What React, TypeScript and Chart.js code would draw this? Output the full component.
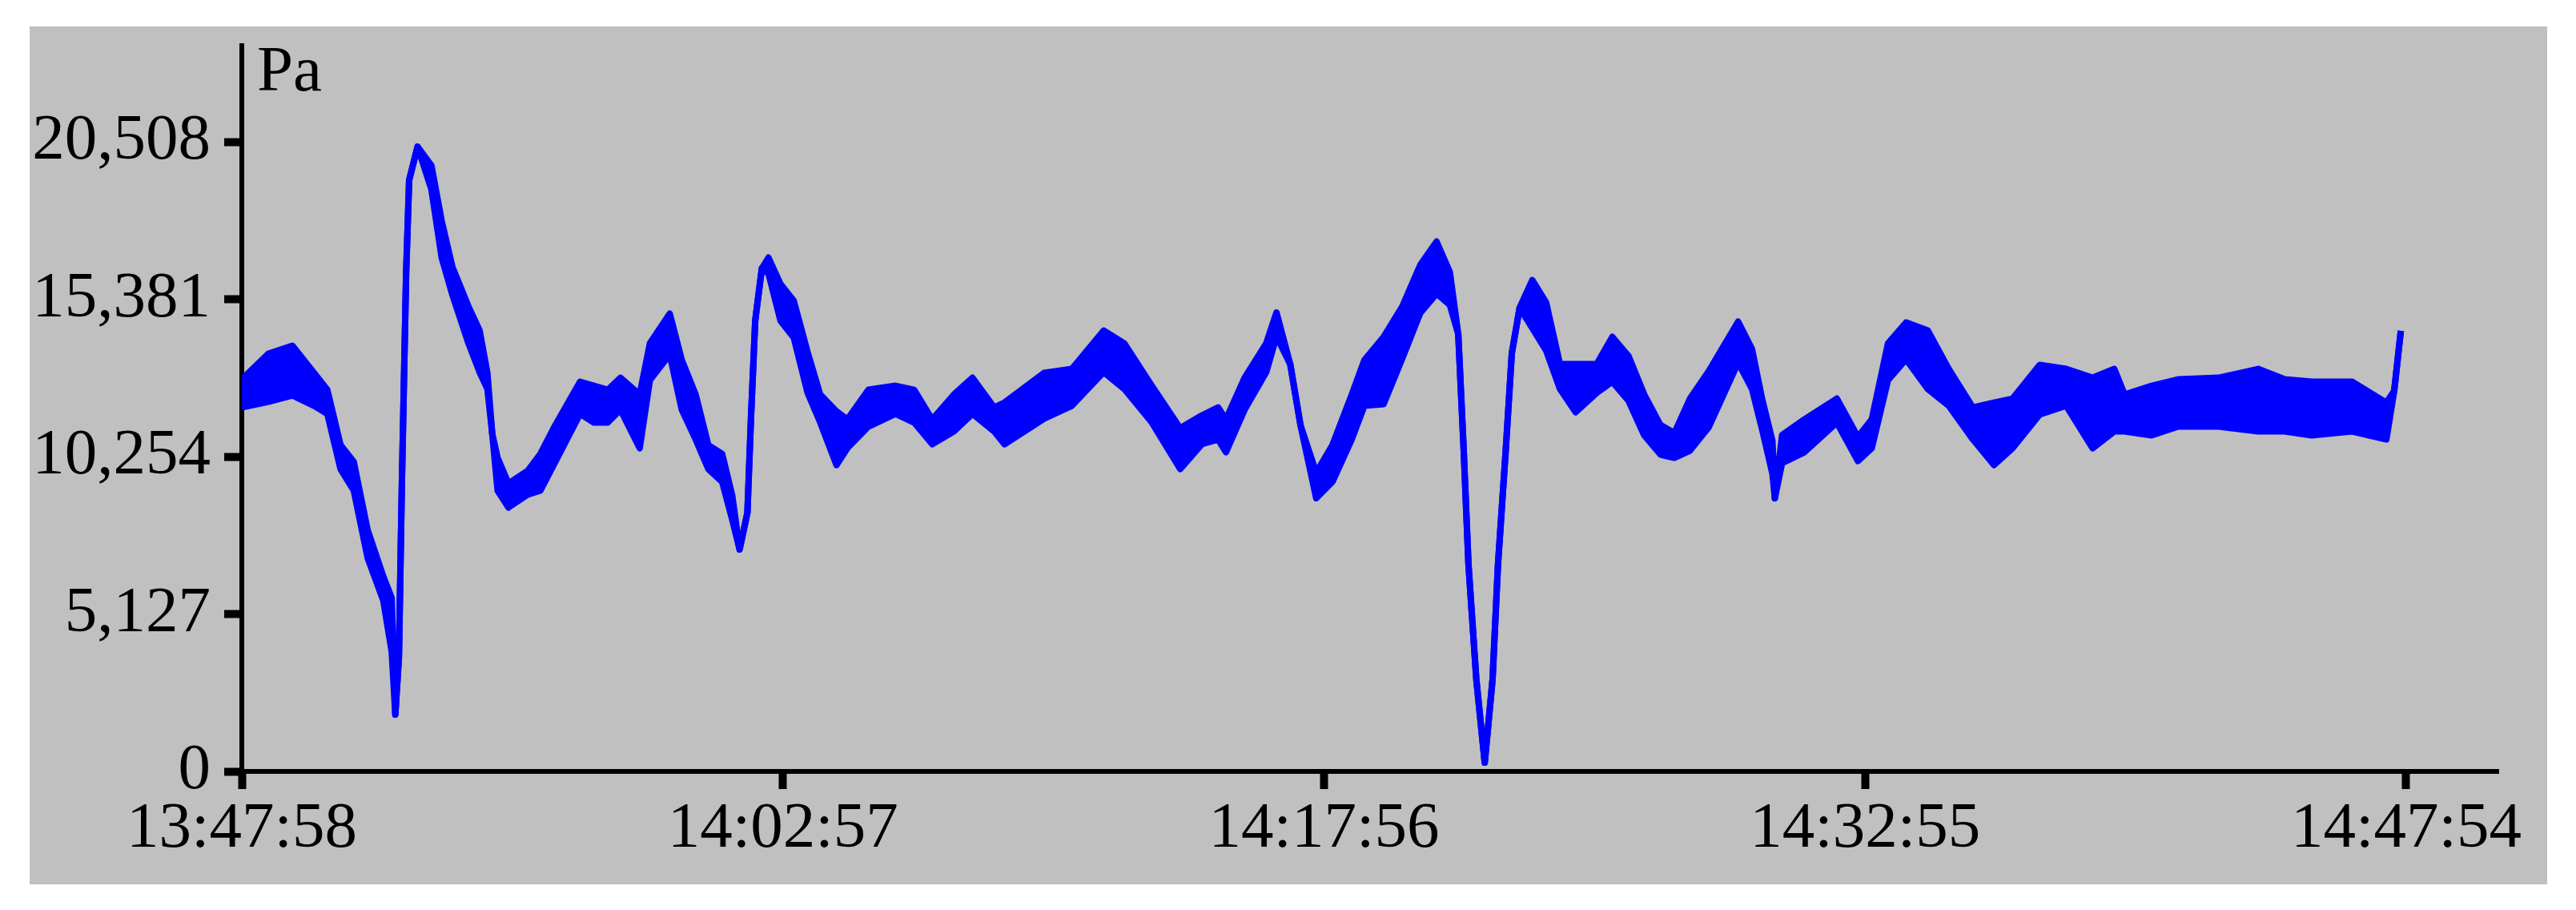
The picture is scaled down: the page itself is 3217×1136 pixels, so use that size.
import { useEffect, useRef } from 'react';
import { Chart, registerables } from 'chart.js';

Chart.register(...registerables);

// seconds after 13:47:58
const timeSec = [
  0, 44, 84, 120, 142, 164, 186, 209, 235, 249, 255, 261, 266, 273, 278, 292, 315, 332, 350, 376,
  395, 408, 416, 425, 443, 475, 496, 518, 562, 585, 608, 629, 661, 678, 711, 731, 754, 775, 798, 815,
  827, 840, 846, 853, 864, 875, 895, 917, 940, 961, 988, 1006, 1041, 1086, 1117, 1147, 1183, 1214, 1250, 1267,
  1333, 1379, 1432, 1466, 1512, 1559, 1595, 1622, 1635, 1666, 1702, 1719, 1742, 1759, 1785, 1812, 1844, 1865, 1897, 1928,
  1958, 1985, 2007, 2021, 2030, 2038, 2051, 2065, 2078, 2087, 2100, 2110, 2123, 2144, 2167, 2190, 2216, 2251, 2277, 2304,
  2330, 2357, 2380, 2406, 2437, 2486, 2509, 2526, 2543, 2547, 2559, 2596, 2650, 2685, 2708, 2735, 2765, 2801, 2836, 2876,
  2911, 2942, 2987, 3031, 3075, 3111, 3128, 3173, 3217, 3284, 3350, 3394, 3439, 3506, 3563, 3576, 3587,
];

// upper edge of the noisy pressure trace (Pa)
const pressureUpper = [
  12771, 13606, 13867, 12980, 12432, 10632, 10084, 7866, 6353, 5648, 1852, 3731, 9471, 16254, 19254, 20350, 19737, 17937, 16424, 15171,
  14363, 12980, 11010, 10214, 9379, 9797, 10345, 11180, 12693, 12562, 12432, 12823, 12275, 13945, 14910, 13397, 12275, 10632, 10345, 8962,
  7227, 8427, 11558, 14689, 16385, 16737, 15876, 15328, 13658, 12275, 11727, 11467, 12432, 12562, 12432, 11467, 12275, 12823, 11858, 12014,
  12980, 13110, 14363, 13945, 12562, 11180, 11597, 11858, 11467, 12823, 13945, 14950, 13254, 11271, 9732, 10632, 12275, 13397, 14154, 15145,
  16502, 17259, 16267, 14245, 10488, 6731, 3000, 287, 3000, 6731, 10488, 13619, 15106, 16006, 15276, 13267, 13267, 13267, 14154, 13528,
  12275, 11284, 11023, 12145, 13032, 14650, 13762, 12119, 10762, 8897, 10958, 11467, 12145, 10893, 11467, 13945, 14623, 14363, 13110, 11858,
  12014, 12145, 13241, 13110, 12823, 13110, 12275, 12562, 12771, 12823, 13110, 12771, 12693, 12693, 12014, 12393, 14350,
];

// lower edge of the noisy pressure trace (Pa)
const pressureLower = [
  11858, 12041, 12249, 11910, 11649, 9849, 9145, 6953, 5570, 3900, 1852, 3731, 9471, 16254, 19254, 20350, 18954, 16737, 15511, 13971,
  13006, 12458, 11010, 9145, 8597, 9014, 9145, 9979, 11649, 11362, 11362, 11780, 10527, 12745, 13580, 11780, 10814, 9849, 9432, 8179,
  7227, 8427, 11558, 14689, 16385, 16215, 14676, 14128, 12328, 11362, 9979, 10527, 11232, 11649, 11362, 10658, 11075, 11649, 11075, 10658,
  11493, 11910, 13006, 12458, 11362, 9849, 10658, 10814, 10397, 11780, 13006, 14167, 13254, 11271, 8897, 9432, 10814, 11910, 11962, 13449,
  14936, 15563, 15197, 14245, 10488, 6731, 3000, 287, 3000, 6731, 10488, 13619, 15106, 14441, 13710, 12458, 11701, 12328, 12693, 12067,
  10945, 10319, 10214, 10449, 11206, 13319, 12458, 11127, 9692, 8897, 10045, 10397, 11362, 10110, 10527, 12745, 13423, 12458, 11910, 10814,
  9979, 10527, 11623, 11910, 10527, 11075, 11075, 10945, 11232, 11232, 11075, 11075, 10945, 11075, 10814, 12393, 14350,
];

const yTickValues = [0, 5127, 10254, 15381, 20508];
const xTickValues = [0, 899, 1798, 2697, 3596];
const xTickLabels = ['13:47:58', '14:02:57', '14:17:56', '14:32:55', '14:47:54'];
const yUnit = 'Pa';
const xMax = 3749;
const yMax = 23640;

export default function App() {
  const ref = useRef<HTMLCanvasElement>(null);

  useEffect(() => {
    if (!ref.current) return;
    const fontFamily = '"Liberation Serif", "Times New Roman", serif';
    const font = { family: fontFamily, size: 81 };

    const unitPlugin = {
      id: 'unitLabel',
      afterDraw(chart: any) {
        const { ctx, chartArea } = chart;
        ctx.save();
        ctx.font = `81px ${fontFamily}`;
        ctx.fillStyle = '#000';
        ctx.textAlign = 'left';
        ctx.textBaseline = 'alphabetic';
        ctx.fillText(yUnit, chartArea.left + 19, chartArea.top + 56);
        ctx.restore();
      },
    };

    const lineStyle = {
      borderColor: '#0000ff',
      backgroundColor: '#0000ff',
      borderWidth: 8,
      pointRadius: 0,
      pointHoverRadius: 0,
      tension: 0,
      borderJoinStyle: 'round' as const,
    };

    const noPad = (s: any) => {
      s.paddingTop = 0;
      s.paddingBottom = 0;
      s.paddingLeft = 0;
      s.paddingRight = 0;
    };

    const chart = new Chart(ref.current, {
      type: 'line',
      data: {
        datasets: [
          {
            ...lineStyle,
            data: timeSec.map((t, i) => ({ x: t, y: pressureUpper[i] })),
            fill: '+1',
          },
          {
            ...lineStyle,
            data: timeSec.map((t, i) => ({ x: t, y: pressureLower[i] })),
            fill: false,
          },
        ],
      },
      options: {
        animation: false,
        responsive: false,
        layout: { padding: { top: 24, right: 61, left: 0, bottom: 0 } },
        plugins: { legend: { display: false }, tooltip: { enabled: false } },
        scales: {
          x: {
            type: 'linear',
            min: 0,
            max: xMax,
            afterFit(s: any) {
              s.height = 141;
              noPad(s);
            },
            afterBuildTicks(s: any) {
              s.ticks = xTickValues.map((v) => ({ value: v }));
            },
            ticks: {
              callback: (_v: any, i: number) => xTickLabels[i] ?? '',
              font,
              color: '#000',
              padding: 2,
              maxRotation: 0,
              autoSkip: false,
            },
            grid: { drawOnChartArea: false, tickLength: 22, tickWidth: 10, tickColor: '#000' },
            border: { color: '#000', width: 6 },
          },
          y: {
            type: 'linear',
            min: 0,
            max: yMax,
            afterFit(s: any) {
              s.width = 265;
              noPad(s);
            },
            afterBuildTicks(s: any) {
              s.ticks = yTickValues.map((v) => ({ value: v }));
            },
            ticks: {
              callback: (v: any) => Number(v).toLocaleString('en-US'),
              font,
              color: '#000',
              padding: 17,
              autoSkip: false,
            },
            grid: { drawOnChartArea: false, tickLength: 22, tickWidth: 10, tickColor: '#000' },
            border: { color: '#000', width: 6 },
          },
        },
      },
      plugins: [unitPlugin],
    });

    return () => chart.destroy();
  }, []);

  return (
    <div
      style={{
        position: 'absolute',
        left: 37,
        top: 33,
        width: 3144,
        height: 1071,
        background: '#c0c0c0',
      }}
    >
      <canvas ref={ref} width={3144} height={1071} style={{ display: 'block', width: 3144, height: 1071 }} />
    </div>
  );
}
